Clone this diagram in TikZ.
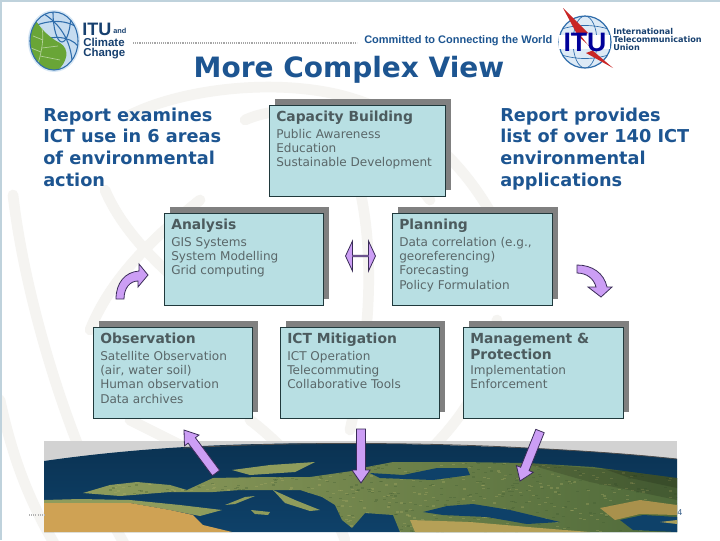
\documentclass[tikz,border=0pt]{standalone}
\usepackage{fontspec}
\usetikzlibrary{calc,shapes.arrows}
\setmainfont{DejaVu Sans}
\newfontfamily\arialf{Liberation Sans}
\definecolor{bluetxt}{HTML}{1D5591}
\definecolor{navy}{HTML}{17406F}
\definecolor{boxfill}{HTML}{B8DFE3}
\definecolor{boxline}{HTML}{20393C}
\definecolor{shadowc}{HTML}{808080}
\definecolor{boxhead}{HTML}{4C5B5E}
\definecolor{boxbody}{HTML}{5A6769}
\definecolor{arrowf}{HTML}{CC9EF5}
\definecolor{arrowl}{HTML}{3A2C58}
\definecolor{wm}{HTML}{F5F4F1}
\definecolor{sea}{HTML}{0E4169}
\definecolor{seadk}{HTML}{08263F}
\definecolor{landa}{HTML}{8F9C5C}
\definecolor{landb}{HTML}{4F6A3A}
\definecolor{sand}{HTML}{CFA254}
\definecolor{edgec}{HTML}{BFD2DC}
\definecolor{leaf}{HTML}{69A537}
\definecolor{globe}{HTML}{C6DCF0}
\definecolor{merid}{HTML}{2F6DAB}
\definecolor{speckA}{HTML}{B5B36A}
\definecolor{speckB}{HTML}{3E5A30}
\tikzset{
  x=0.75pt,y=-0.75pt,
  cardbox/.style={draw=boxline,line width=0.7pt,fill=boxfill},
  cardshadow/.style={fill=shadowc},
  cardtext/.style={anchor=north west,inner sep=0pt,align=left,text=boxbody,font=\fontsize{9.05}{10.75}\selectfont},
  sidetext/.style={anchor=north west,inner sep=0pt,align=left,text=bluetxt,font=\fontsize{13.3}{16.2}\selectfont\bfseries},
  blockarrow/.style={draw=arrowl,line width=0.6pt,fill=arrowf,line join=miter},
  watermark/.style={draw=wm,line width=8pt,line cap=round},
}
\newcommand{\infocard}[6]{%
  \fill[cardshadow] (#2+6,#3-6) rectangle (#2+#4+6,#3+#5-6);
  \draw[cardbox] (#2,#3) rectangle (#2+#4,#3+#5);
  \node[cardtext] (#1) at (#2+7,#3+6) {#6};
}
\newcommand{\cardhead}[1]{{\color{boxhead}\bfseries\fontsize{10.4}{10.75}\selectfont #1}}
\newcommand{\straightarrow}[2]{%
  \coordinate (hb) at ($(#2)!9.75pt!(#1)$);
  \draw[blockarrow] ($(#1)!3.4pt!90:(#2)$) -- ($(hb)!3.4pt!90:(#2)$) -- ($(hb)!6.8pt!90:(#2)$) -- (#2)
    -- ($(hb)!6.8pt!-90:(#2)$) -- ($(hb)!3.4pt!-90:(#2)$) -- ($(#1)!3.4pt!-90:(#2)$) -- cycle;
}
\newcommand{\landpath}{(83,493) -- (110,485) -- (137,482) -- (170,485) -- (187,490) -- (213,478) -- (263,477) -- (310,477) -- (352,471) -- (367,467) -- (393,462) -- (460,462) -- (527,463) -- (593,467) -- (677,478) -- (677,532) -- (400,532) -- (393,515) -- (365,513) -- (352,528) -- (342,520) -- (335,505) -- (322,497) -- (300,490) -- (272,490) -- (240,490) -- (213,492) -- (170,492) -- (120,496) -- cycle}
\begin{document}
\begin{tikzpicture}
\useasboundingbox (0,0) rectangle (720,540);
\fill[white] (0,0) rectangle (720,540);
% watermark emblem
\begin{scope}
\clip (0,0) rectangle (720,540);
\draw[watermark] (13,195) .. controls (25,300) and (70,450) .. (125,545);
\draw[watermark] (0,400) .. controls (15,470) and (35,510) .. (55,545);
\draw[watermark] (105,190) .. controls (120,225) and (150,260) .. (200,300);
\draw[watermark] (200,200) .. controls (150,240) and (110,280) .. (90,330);
\draw[watermark] (130,115) .. controls (180,90) and (270,78) .. (340,95) .. controls (420,115) and (470,170) .. (500,230);
\draw[watermark] (245,120) .. controls (290,100) and (360,110) .. (430,200);
\draw[watermark] (360,190) .. controls (375,260) and (370,340) .. (350,430);
\draw[watermark] (497,320) .. controls (490,380) and (460,420) .. (430,450);
\draw[watermark] (250,420) .. controls (290,450) and (330,500) .. (345,540);
\draw[watermark] (130,420) .. controls (150,430) and (170,440) .. (190,450);
\end{scope}
% page edge
\fill[edgec] (0,0) rectangle (720,2);
\fill[edgec] (0,0) rectangle (2,540);
% left logo
\node[circle,inner sep=0pt,minimum size=0pt] (glow) at (54,41) {};
\fill[globe!70!white] (54,41) ellipse (26 and 31);
\fill[globe] (54,41) ellipse (24 and 29);
\begin{scope}
\clip (54,41) ellipse (24 and 29);
\draw[merid,line width=0.8pt] (62,12) ellipse (9 and 30);
\draw[merid,line width=0.8pt] (30,28) .. controls (50,18) and (70,20) .. (80,30);
\draw[merid,line width=0.8pt] (34,44) .. controls (50,34) and (70,36) .. (78,46);
\draw[merid,line width=0.8pt] (44,14) .. controls (60,24) and (70,40) .. (72,60);
\fill[leaf] (25,28) -- (36,21) .. controls (42,30) and (50,38) .. (60,43) .. controls (70,49) and (68,62) .. (56,72) -- (25,72) -- cycle;
\draw[leaf!50!white,line width=0.5pt] (38,64) .. controls (42,50) and (44,38) .. (42,28);
\draw[leaf!50!white,line width=0.5pt] (42,48) -- (58,46);
\draw[leaf!50!white,line width=0.5pt] (40,56) -- (60,60);
\draw[leaf!50!white,line width=0.5pt] (43,40) -- (33,36);
\draw[leaf!50!white,line width=0.5pt] (41,52) -- (31,48);
\end{scope}
\draw[merid,line width=0.8pt] (54,41) ellipse (24 and 29);
\node[anchor=west,inner sep=0pt,text=navy,font=\arialf\bfseries\fontsize{13.5}{13.5}\selectfont] (itua) at (82,29) {ITU};
\node[anchor=south west,inner sep=0pt,text=navy,font=\arialf\bfseries\fontsize{5.5}{5.5}\selectfont] (itub) at (113,34) {and};
\node[anchor=west,inner sep=0pt,text=navy,font=\arialf\bfseries\fontsize{8.6}{8.6}\selectfont] (cl) at (83,42) {Climate};
\node[anchor=west,inner sep=0pt,text=navy,font=\arialf\bfseries\fontsize{8.6}{8.6}\selectfont] (ch) at (83,54) {Change};
% header
\coordinate (dota) at (133,43);
\coordinate (dotb) at (357,43);
\draw[gray!70,line width=0.8pt,dash pattern=on 0.7pt off 0.7pt] (dota) -- (dotb);
\node[anchor=west,inner sep=0pt,text=bluetxt,font=\arialf\bfseries\fontsize{8.25}{8.5}\selectfont] (committed) at (364,41) {Committed to Connecting the World};
% right logo
\fill[globe!60!white] (585,42) circle (26);
\begin{scope}
\clip (585,42) circle (26);
\draw[merid,line width=0.5pt] (585,42) ellipse (12 and 26);
\draw[merid,line width=0.5pt] (559,30) .. controls (575,24) and (595,24) .. (611,30);
\draw[merid,line width=0.5pt] (559,54) .. controls (575,60) and (595,60) .. (611,54);
\end{scope}
\draw[merid,line width=0.9pt] (585,42) circle (26);
\fill[white] (559,35) rectangle (610,49);
\fill[red!75!black!85!white] (563,8) -- (588,33) -- (581,36) -- (592,50) -- (613,68) -- (586,53) -- (594,50) -- (578,36) -- cycle;
\node[inner sep=0pt,text=blue!60!black,font=\arialf\bfseries\fontsize{20}{20}\selectfont] (itulogo) at (585,42) {ITU};
\node[anchor=north west,inner sep=0pt,align=left,text=navy,font=\bfseries\fontsize{6.1}{6}\selectfont] (itut) at (613,28.5) {International\\Telecommunication\\Union};
% title
\node[inner sep=0pt,text=bluetxt,font=\bfseries\fontsize{21}{22}\selectfont] (title) at (349,70) {More Complex View};
% side text
\node[sidetext] (lefttext) at (43,107.5) {Report examines\\ICT use in 6 areas\\of environmental\\action};
\node[sidetext] (righttext) at (500,107.5) {Report provides\\list of over 140 ICT\\environmental\\applications};
% earth
\fill[gray!35] (44,441) rectangle (677,532);
\shade[top color=seadk!55!sea,bottom color=sea] (44,461) .. controls (120,450) and (200,445) .. (263,444) .. controls (340,442) and (430,444) .. (527,448) .. controls (590,451) and (640,455) .. (677,459) -- (677,532) -- (44,532) -- cycle;
\draw[black!70,line width=0.6pt] (183,448) .. controls (300,441) and (440,443) .. (527,448) .. controls (590,451) and (640,455) .. (677,459);
% land
\shade[left color=landa,right color=landb] \landpath;
\begin{scope}
\clip \landpath;
\pgfmathsetseed{7}
\foreach \i in {1,...,900}{
  \pgfmathsetmacro{\px}{83+rnd*594}
  \pgfmathsetmacro{\py}{462+rnd*70}
  \pgfmathsetmacro{\pk}{rnd}
  \ifdim\pk pt<0.5pt
    \fill[speckA,opacity=0.3] (\px,\py) rectangle (\px+3,\py+1.2);
  \else
    \fill[speckB,opacity=0.3] (\px,\py) rectangle (\px+3,\py+1.2);
  \fi
}
\fill[black,opacity=0.15] (520,462) -- (677,476) -- (677,500) -- (590,482) -- cycle;
\fill[black,opacity=0.15] (590,464) -- (677,476) -- (677,488) -- (630,478) -- cycle;
\end{scope}
\fill[landa] (273,490) -- (295,500) -- (320,510) -- (310,511) -- (285,503) -- cycle;
\fill[landa] (232,470) -- (270,465) -- (315,462) -- (295,472) -- (250,475) -- cycle;
\fill[landa] (225,505) -- (245,497) -- (255,496) -- (235,504) -- cycle;
\fill[landa] (251,510) -- (270,512) -- (268,515) -- (255,514) -- cycle;
\fill[landa] (44,503) -- (44,500) -- (80,499) -- (130,500) -- (180,505) -- (222,510) -- (200,516) -- (170,510) -- (130,503) -- cycle;
% sand
\fill[sand] (44,503) -- (80,503) -- (130,503) -- (170,510) -- (193,515) -- (203,525) -- (232,532) -- (44,532) -- cycle;
% inland seas
\fill[sea] (370,473) -- (403,475) -- (437,468) -- (467,468) -- (470,475) -- (433,480) -- (380,478) -- cycle;
\fill[sea] (423,512) -- (447,506) -- (473,504) -- (510,510) -- (560,522) -- (527,524) -- (487,517) -- (443,515) -- cycle;
\fill[sand!70!landb] (600,508) -- (640,500) -- (677,505) -- (677,515) -- (640,514) -- (615,520) -- cycle;
\fill[sea] (620,520) -- (643,515) -- (677,517) -- (677,532) -- (633,530) -- cycle;
\fill[sand!60!landa] (410,520) -- (470,522) -- (540,528) -- (590,532) -- (415,532) -- cycle;
\fill[landa!60!sand] (677,524) -- (660,522) -- (677,520) -- cycle;
% footer bits
\coordinate (fa) at (29,515);
\coordinate (fb) at (44,515);
\draw[gray!60,line width=1pt,dash pattern=on 0.8pt off 0.8pt] (fa) -- (fb);
\node[anchor=west,inner sep=0pt,text=bluetxt!70!gray,font=\fontsize{6}{7}\selectfont] (pnum) at (677,513) {4};
% cards
\infocard{capacity}{269}{105}{176}{91}{\cardhead{Capacity Building}\\[1.5pt]Public Awareness\\Education\\Sustainable Development}
\infocard{analysis}{164}{213}{159}{92}{\cardhead{Analysis}\\[1.5pt]GIS Systems\\System Modelling\\Grid computing}
\infocard{planning}{392}{213}{160}{92}{\cardhead{Planning}\\[1.5pt]Data correlation (e.g.,\\georeferencing)\\Forecasting\\Policy Formulation}
\infocard{observation}{93}{327}{159}{91}{\cardhead{Observation}\\[1.5pt]Satellite Observation\\(air, water soil)\\Human observation\\Data archives}
\infocard{mitigation}{280}{327}{159}{91}{\cardhead{ICT Mitigation}\\[1.5pt]ICT Operation\\Telecommuting\\Collaborative Tools}
\infocard{management}{463}{327}{160}{91}{\cardhead{Management \&}\\[1.5pt]\cardhead{Protection}\\Implementation\\Enforcement}
% arrows
\node[double arrow,blockarrow,inner sep=0pt,minimum height=22.5pt,minimum width=22.5pt,double arrow head extend=5.5pt,double arrow tip angle=130] (swap) at (360.5,256) {};
\draw[blockarrow] (116,299) .. controls (116,283) and (125,272) .. (139,271) -- (139,264) -- (148,275) -- (138,287) -- (138,281) .. controls (130,281) and (124,288) .. (124,299) -- cycle;
\draw[blockarrow] (577,265) .. controls (592,265) and (604,273) .. (607,287) -- (612,287) -- (601,297) -- (588,287) -- (596,287) .. controls (594,279) and (587,273) .. (577,273) -- cycle;
\coordinate (e1) at (216,473);
\coordinate (o1) at (184,430);
\coordinate (m1) at (361,429);
\coordinate (e2) at (361,483);
\coordinate (g1) at (540,431);
\coordinate (e3) at (520,481);
\straightarrow{e1}{o1}
\straightarrow{m1}{e2}
\straightarrow{g1}{e3}
\end{tikzpicture}
\end{document}
